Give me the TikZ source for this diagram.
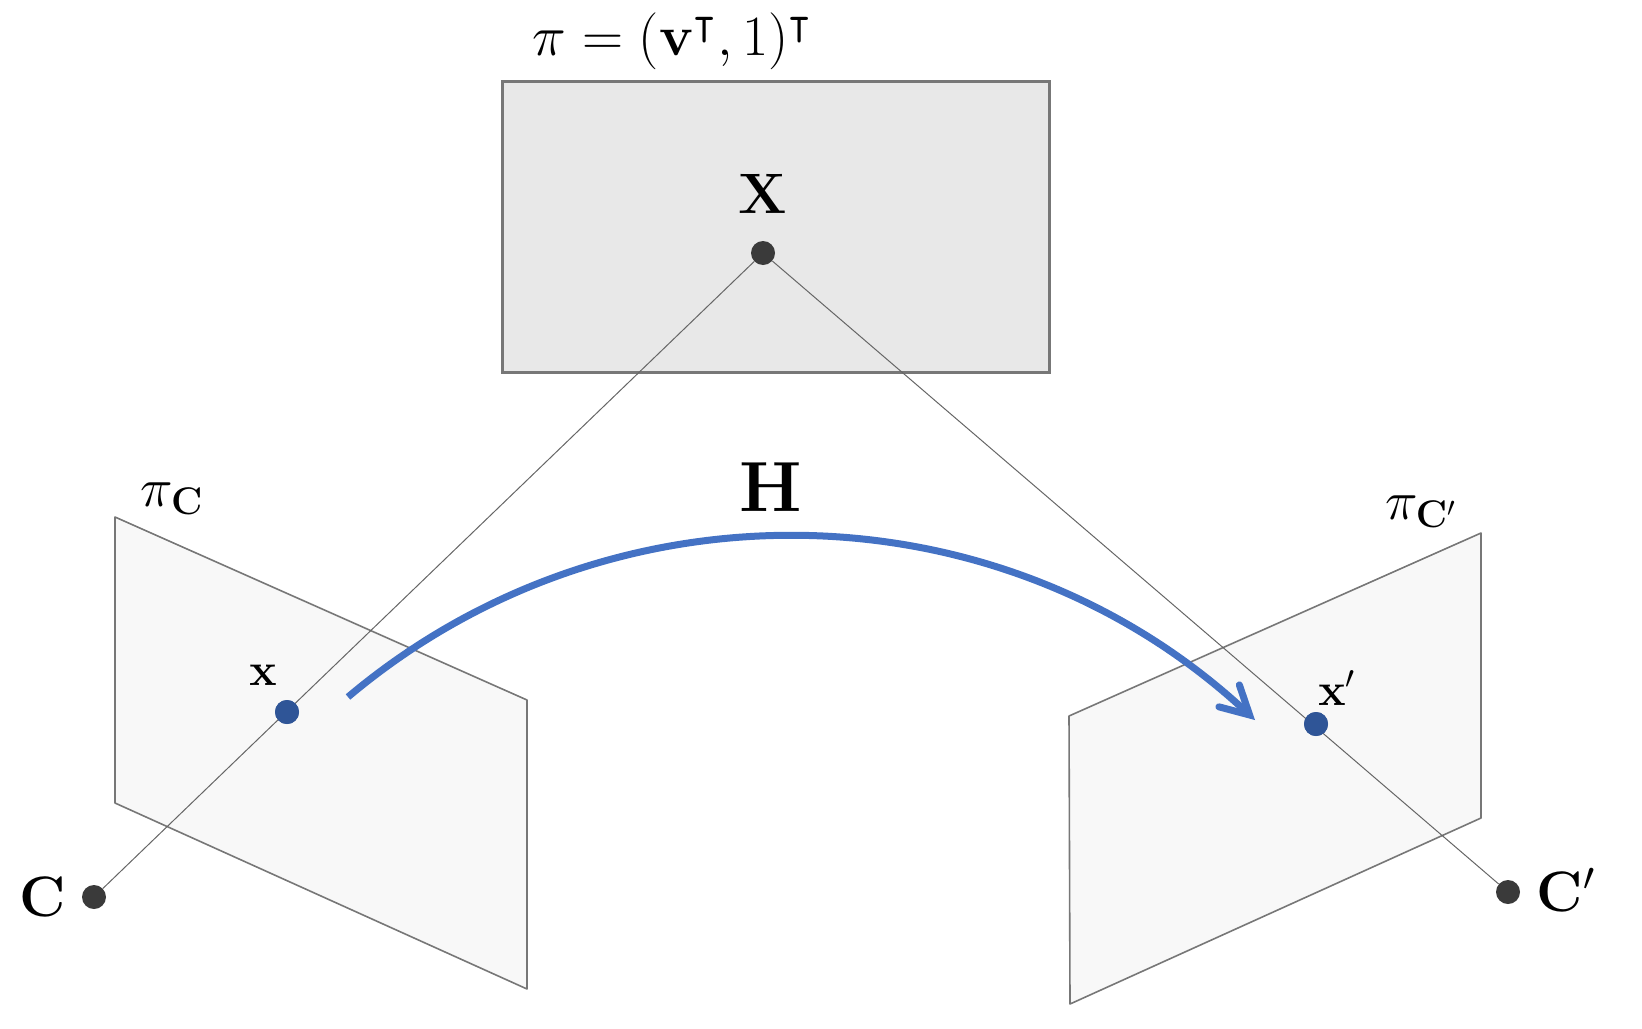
\RequirePackage{fix-cm}
\documentclass[tikz,border=0pt]{standalone}
\usepackage{amssymb}
\usetikzlibrary{arrows.meta}
\definecolor{rectfill}{HTML}{E8E8E8}
\definecolor{planefill}{HTML}{F8F8F8}
\definecolor{edgegray}{HTML}{777777}
\definecolor{raygray}{HTML}{666666}
\definecolor{darkdot}{HTML}{3A3A3A}
\definecolor{bluedot}{HTML}{2F5597}
\definecolor{arcblue}{HTML}{4472C4}
\tikzset{
  plane/.style={fill=planefill, draw=edgegray, line width=0.8pt, line join=round},
  ray/.style={draw=raygray, line width=0.5pt},
  camdot/.style={circle, fill=darkdot, inner sep=0pt, minimum size=12pt},
  imgdot/.style={circle, fill=bluedot, inner sep=0pt, minimum size=12pt},
  lbl/.style={inner sep=0pt, text=black},
}
\begin{document}
\begin{tikzpicture}[x=0.5pt, y=-0.5pt]
\useasboundingbox (0,0) rectangle (1642,1028);
% top plane
\node[draw=edgegray, fill=rectfill, line width=1.5pt, minimum width=273.5pt, minimum height=145.5pt, inner sep=0pt] (top) at (775.5,226.5) {};
\node[lbl, font=\fontsize{28.5}{32}\selectfont] (toplbl) at (672,41) {$\pi = (\mathbf{v}^{\intercal}, 1)^{\intercal}$};
% left image plane
\path[plane] (115,517) -- (527,700) -- (527,989) -- (115,803) -- cycle;
% right image plane
\path[plane] (1069,716) -- (1481,533) -- (1481,818) -- (1070,1004) -- cycle;
% points
\node[camdot] (X) at (763,253) {};
\node[camdot] (C) at (94,897) {};
\node[camdot] (Cp) at (1508,892) {};
\node[imgdot] (x) at (287,712) {};
\node[imgdot] (xp) at (1316,724) {};
% rays
\draw[ray] (X) -- (C);
\draw[ray] (X) -- (Cp);
% redraw image dots on top
\node[imgdot] at (x) {};
\node[imgdot] at (xp) {};
% labels
\node[lbl, font=\fontsize{28.5}{32}\selectfont] (Xl) at (763,194) {$\mathbf{X}$};
\node[lbl, font=\fontsize{28.5}{32}\selectfont] (Cl) at (43,897) {$\mathbf{C}$};
\node[lbl, font=\fontsize{28.5}{32}\selectfont] (Cpl) at (1566,890) {$\mathbf{C}'$};
\node[lbl, font=\fontsize{23}{26}\selectfont] (xl) at (263,675) {$\mathbf{x}$};
\node[lbl, font=\fontsize{23}{26}\selectfont] (xpl) at (1337,688) {$\mathbf{x}'$};
\node[lbl, font=\fontsize{27.5}{32}\selectfont] (piC) at (172,499) {$\pi_{\mathbf{C}}$};
\node[lbl, font=\fontsize{27.5}{32}\selectfont] (piCp) at (1421,512) {$\pi_{\mathbf{C}'}$};
\node[lbl, font=\fontsize{35.5}{40}\selectfont] (H) at (771,487) {$\mathbf{H}$};
% homography arc
\coordinate (hs) at (348,697);
\draw[arcblue, line width=3.5pt, -{Straight Barb[length=14pt, width=15pt, line width=3.5pt, line cap=round]}]
  (hs) arc[start angle=-130.13, end angle=-46.96, radius=683.5];
\end{tikzpicture}
\end{document}
